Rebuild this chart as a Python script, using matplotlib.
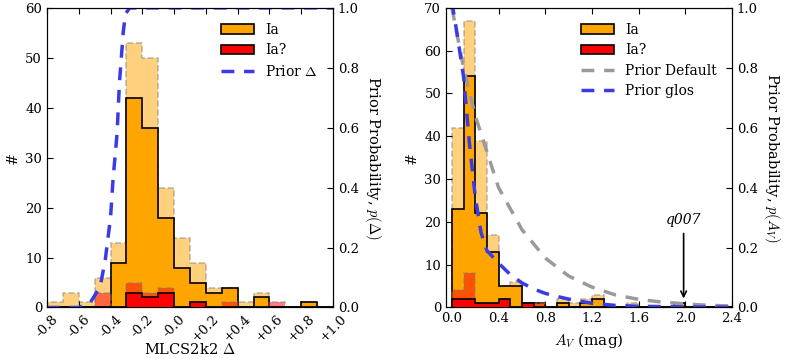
import numpy as np
import matplotlib
matplotlib.use("Agg")
import matplotlib.pyplot as plt
import matplotlib.patches as mpatches

plt.rcParams["font.family"] = ["DejaVu Serif"]
plt.rcParams["mathtext.fontset"] = "cm"
plt.rcParams["font.size"] = 9.5

# --- MLCS2k2 Delta panel (bins of 0.1 starting at -0.8) ---
delta_edges = np.round(np.arange(-0.8, 1.0001, 0.1), 2)
delta_ia = [0, 0, 0, 0, 9, 42, 36, 18, 8, 5, 3, 4, 0, 2, 0, 0, 1, 0]
delta_ia_q = [0, 0, 0, 0, 0, 3, 2, 3, 0, 1, 0, 0, 0, 0, 0, 0, 0, 0]
delta_ia_alt = [1, 3, 1, 6, 13, 53, 50, 24, 14, 9, 4, 4, 1, 3, 0, 0, 1, 0]
delta_ia_q_alt = [0, 0, 0, 3, 0, 5, 3, 4, 0, 1, 0, 1, 0, 0, 1, 0, 0, 0]

prior_delta_x = [-0.8, -0.6, -0.53, -0.465, -0.433, -0.4, -0.384, -0.359,
                 -0.344, -0.32, -0.306, -0.28, 1.0]
prior_delta_p = [0.0, 0.0, 0.014, 0.07, 0.16, 0.30, 0.43, 0.58,
                 0.75, 0.92, 0.98, 1.0, 1.0]

delta_ticks = [-0.8, -0.6, -0.4, -0.2, 0.0, 0.2, 0.4, 0.6, 0.8, 1.0]
delta_ticklabels = ["-0.8", "-0.6", "-0.4", "-0.2", "-0.0",
                    "+0.2", "+0.4", "+0.6", "+0.8", "+1.0"]

# --- A_V panel (bins of 0.1 starting at 0.0) ---
av_edges = np.round(np.arange(0.0, 2.4001, 0.1), 2)
av_ia = [23, 54, 22, 13, 5, 5, 1, 1, 0, 1, 0, 1, 2, 0, 0, 0, 0, 0, 0, 1, 0, 0, 0, 0]
av_ia_q = [2, 2, 1, 1, 2, 0, 1, 0, 0, 0, 0, 0, 0, 0, 0, 0, 0, 0, 0, 0, 0, 0, 0, 0]
av_ia_alt = [42, 67, 39, 17, 5, 6, 1, 1, 0, 2, 1, 2, 3, 0, 0, 1, 0, 0, 0, 1, 0, 0, 0, 0]
av_ia_q_alt = [4, 8, 1, 1, 2, 0, 1, 1, 0, 0, 0, 0, 0, 0, 0, 0, 0, 0, 0, 0, 0, 0, 0, 0]

prior_default_x = [0.0, 0.1, 0.2, 0.3, 0.4, 0.6, 0.8, 1.0, 1.2, 1.4, 1.6, 1.8, 2.0, 2.2, 2.4]
prior_default_p = [1.0, 0.80, 0.64, 0.52, 0.40, 0.26, 0.165, 0.105, 0.068,
                   0.042, 0.027, 0.018, 0.012, 0.007, 0.005]
prior_glos_x = [0.0, 0.05, 0.1, 0.15, 0.2, 0.25, 0.3, 0.4, 0.5, 0.6, 0.7,
                0.8, 0.9, 1.0, 1.2, 1.4, 1.6, 2.0, 2.4]
prior_glos_p = [1.02, 0.90, 0.77, 0.55, 0.37, 0.25, 0.19, 0.148, 0.11, 0.082,
                0.062, 0.047, 0.037, 0.028, 0.014, 0.007, 0.004, 0.002, 0.001]

av_ticks = [0.0, 0.4, 0.8, 1.2, 1.6, 2.0, 2.4]

ORANGE = "#ffa500"
RED = "#ff0000"
BLUE = "#3a3ae6"
GREY = "#9a9a9a"
DASH = (3.7, 2.8)


def draw_hists(ax, edges, ia, ia_q, ia_alt, ia_q_alt):
    ax.stairs(ia_alt, edges, fill=True, facecolor=ORANGE, edgecolor="gray",
              linestyle="--", lw=1.2, alpha=0.5, zorder=1)
    ax.stairs(ia, edges, fill=True, facecolor=ORANGE, edgecolor="k",
              lw=1.2, zorder=2)
    ax.stairs(ia_q_alt, edges, fill=True, facecolor=RED, edgecolor="gray",
              linestyle="--", lw=1.2, alpha=0.5, zorder=3)
    ax.stairs(ia_q, edges, fill=True, facecolor=RED, edgecolor="k",
              lw=1.2, zorder=4)


def style_axes(ax, ax2):
    ax.tick_params(direction="in", top=True, right=False, length=4)
    ax2.tick_params(direction="in", length=4)
    ax2.set_ylim(0, 1)
    ax2.set_yticks([0.0, 0.2, 0.4, 0.6, 0.8, 1.0])
    ax2.set_yticklabels(["0.0", "0.2", "0.4", "0.6", "0.8", "1.0"])


def legend_handles(line_colors):
    handles = [mpatches.Patch(facecolor=ORANGE, edgecolor="k", lw=1.2),
               mpatches.Patch(facecolor=RED, edgecolor="k", lw=1.2)]
    for c in line_colors:
        handles.append(plt.Line2D([], [], color=c, lw=2.5, ls="--", dashes=DASH))
    return handles


fig = plt.figure(figsize=(7.91, 3.59), dpi=100)

# Left panel
ax = fig.add_axes([0.0594, 0.1435, 0.3616, 0.8345])
draw_hists(ax, delta_edges, delta_ia, delta_ia_q, delta_ia_alt, delta_ia_q_alt)
ax.set_xlim(-0.8, 1.0)
ax.set_ylim(0, 60)
ax.set_yticks(range(0, 61, 10))
ax.set_xticks(delta_ticks)
ax.set_xticklabels(delta_ticklabels, rotation=45, ha="center")
ax.set_ylabel("#", fontsize=10.5)
ax.set_xlabel(r"MLCS2k2 $\Delta$", fontsize=10.5, labelpad=-1.5)
ax2 = ax.twinx()
style_axes(ax, ax2)
ax2.plot(prior_delta_x, prior_delta_p, color=BLUE, lw=2.5, ls="--", dashes=DASH)
ax2.set_ylabel(r"Prior Probability, $p(\Delta)$", rotation=270,
               labelpad=17, fontsize=10.5)
ax2.legend(legend_handles([BLUE]), ["Ia", "Ia?", r"Prior $\Delta$"],
           loc="upper right", frameon=False, handlelength=2.4, fontsize=10,
           borderaxespad=0.7, labelspacing=0.45)

# Right panel
bx = fig.add_axes([0.5639, 0.1435, 0.3616, 0.8345])
draw_hists(bx, av_edges, av_ia, av_ia_q, av_ia_alt, av_ia_q_alt)
bx.set_xlim(-0.05, 2.4)
bx.set_ylim(0, 70)
bx.set_yticks(range(0, 71, 10))
bx.set_xticks(av_ticks)
bx.set_xticklabels(["%.1f" % t for t in av_ticks])
bx.set_ylabel("#", fontsize=10.5)
bx.set_xlabel(r"$A_V$ (mag)", fontsize=11)
bx2 = bx.twinx()
style_axes(bx, bx2)
bx2.plot(prior_default_x, prior_default_p, color=GREY, lw=2.5, ls="--",
         dashes=DASH)
bx2.plot(prior_glos_x, prior_glos_p, color=BLUE, lw=2.5, ls="--", dashes=DASH)
bx2.set_ylabel(r"Prior Probability, $p(A_V)$", rotation=270,
               labelpad=17, fontsize=10.5)
bx2.annotate("q007", xy=(1.985, 0.03), xytext=(1.985, 0.27),
             ha="center", va="bottom", fontstyle="italic", fontsize=10,
             arrowprops=dict(arrowstyle="->", color="k", lw=1.2,
                             shrinkA=3, shrinkB=0))
bx2.legend(legend_handles([GREY, BLUE]),
           ["Ia", "Ia?", "Prior Default", "Prior glos"],
           loc="upper right", frameon=False, handlelength=2.4, fontsize=10,
           borderaxespad=0.7, labelspacing=0.45)

fig.savefig("out.png", dpi=100)
